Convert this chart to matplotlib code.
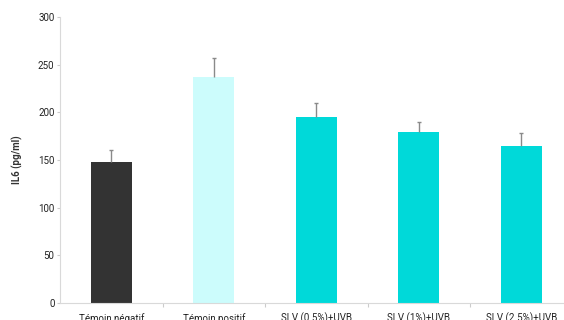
import matplotlib
matplotlib.use("Agg")
import matplotlib.pyplot as plt

# valeurs
groups = ["Témoin négatif", "Témoin positif", "SLV (0.5%)+UVB", "SLV (1%)+UVB", "SLV (2.5%)+UVB"]
il6 = [148, 237, 195, 179, 165]
sem = [12, 20, 15, 11, 13]
bar_colors = ["#333333", "#ccfcfc", "#00d9d9", "#00d9d9", "#00d9d9"]

plt.rcParams["font.family"] = ["Roboto", "DejaVu Sans"]

fig = plt.figure(figsize=(5.64, 3.2), dpi=100)
# l'axe dépasse un peu du bord droit, comme sur l'original
ax = fig.add_axes([60 / 564, 17 / 320, 512.5 / 564, 286 / 320])

x = list(range(len(groups)))
ax.bar(x, il6, width=0.4, color=bar_colors, zorder=2)
# barre d'erreur vers le haut seulement, petit trait en bout
ax.errorbar(x, il6, yerr=[[0] * len(sem), sem], fmt="none", ecolor="#8a8a8a",
            elinewidth=1, capsize=0, zorder=3)
tops = [v + e for v, e in zip(il6, sem)]
ax.plot(x, tops, ls="none", marker="_", ms=3, mew=1, color="#8a8a8a", zorder=3)

ax.set_xlim(-0.5, 4.5)
ax.set_ylim(0, 300)
ax.set_yticks(range(0, 301, 50))
ax.set_xticks([i + 0.5 for i in range(4)], minor=False)
ax.set_xticklabels([])
ax.set_xticks(x, minor=True)
ax.set_xticklabels(groups, minor=True)
ax.tick_params(axis="x", which="major", length=3, color="#cccccc", direction="out")
ax.tick_params(axis="x", which="minor", length=0, pad=7, labelsize=7, labelcolor="#222222")
ax.tick_params(axis="y", length=2, color="#cccccc", labelsize=7, labelcolor="#222222", pad=2)

for side in ["top", "right"]:
    ax.spines[side].set_visible(False)
ax.spines["left"].set_color("#d9d9d9")
ax.spines["bottom"].set_color("#d9d9d9")

ax.set_ylabel("IL6 (pg/ml)", fontsize=7, fontweight="bold", color="#333333", labelpad=11)

fig.savefig("out.png", dpi=100)
